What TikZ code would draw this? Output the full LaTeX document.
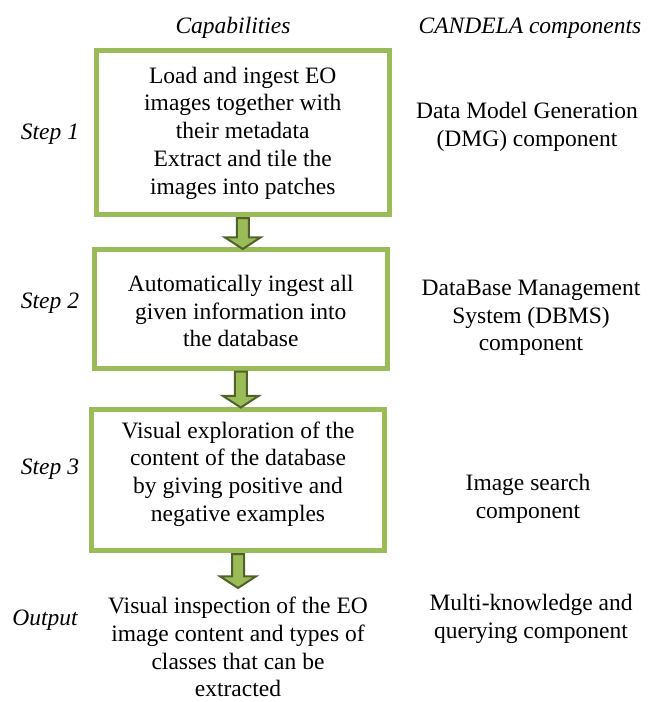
\documentclass[tikz,border=0pt]{standalone}
\usepackage{fontspec}
\setmainfont{Liberation Serif}
\definecolor{cdBox}{RGB}{155,187,89}
\definecolor{cdArrow}{RGB}{79,98,40}
\usetikzlibrary{shapes,arrows,positioning}

\tikzset{
    stepbox/.style={draw=cdBox, line width=5pt, minimum width=293pt, inner sep=0pt},
    steptext/.style={align=center, font=\fontsize{23.5}{27.7}\selectfont},
    sidetext/.style={align=center, font=\fontsize{23.5}{27.7}\selectfont\itshape},
    blkarrow/.style={single arrow, shape border rotate=270, draw=cdArrow, line width=2pt,
        fill=cdBox, inner sep=5pt, single arrow head extend=12pt,
        single arrow tip angle=114, anchor=tail}
}

\begin{document}
\begin{tikzpicture}[x=1pt, y=-1pt]
    \useasboundingbox (0,0) rectangle (662,702);

    \node[sidetext] (hcap) at (233,28) {Capabilities};
    \node[sidetext] (hcomp) at (530,28) {CANDELA components};

    \node[stepbox, minimum height=164pt] (b1) at (242.75,132.5) {};
    \node[steptext] (t1) at (242.75,133) {Load and ingest EO\\images together with\\their metadata\\Extract and tile the\\images into patches};

    \node[stepbox, minimum height=118.5pt] (b2) at (240.75,308.75) {};
    \node[steptext] (t2) at (240.75,311) {Automatically ingest all\\given information into\\the database};

    \node[stepbox, minimum height=141pt] (b3) at (238,480) {};
    \node[steptext] (t3) at (238,474) {Visual exploration of the\\content of the database\\by giving positive and\\negative examples};

    \node[steptext] (out) at (238,647) {Visual inspection of the EO\\image content and types of\\classes that can be\\extracted};

    \node[blkarrow, minimum height=31pt] (a1) at (b1.south) {};
    \node[blkarrow, minimum height=36pt] (a2) at (b2.south) {};
    \node[blkarrow, minimum height=34pt] (a3) at (b3.south) {};

    \node[sidetext] (s1) at (50,134) {Step 1};
    \node[sidetext] (s2) at (50,303) {Step 2};
    \node[sidetext] (s3) at (50,469) {Step 3};
    \node[sidetext] (s4) at (45,620) {Output};

    \node[steptext] (c1) at (527,127) {Data Model Generation\\(DMG) component};
    \node[steptext] (c2) at (531,318) {DataBase Management\\System (DBMS)\\component};
    \node[steptext] (c3) at (528,499) {Image search\\component};
    \node[steptext] (c4) at (531,619) {Multi-knowledge and\\querying component};
\end{tikzpicture}
\end{document}
